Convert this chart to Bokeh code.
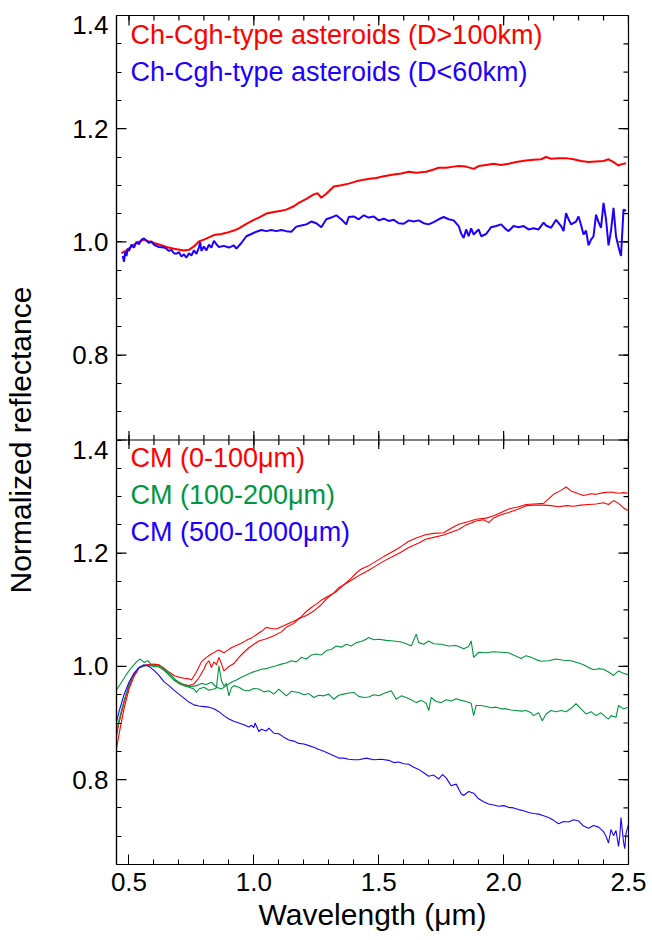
import math
from bokeh.plotting import figure
from bokeh.models import Range1d, FixedTicker, Span, Label, PrintfTickFormatter
from bokeh.embed import file_html
from bokeh.resources import INLINE

# ---------------- data ----------------
# Top panel: Ch-Cgh-type asteroids
top_red_x = [0.47, 0.49, 0.51, 0.53, 0.56, 0.58, 0.60, 0.63, 0.65, 0.68, 0.72, 0.74, 0.76, 0.78, 0.80,
             0.82, 0.84, 0.87, 0.89, 0.92, 0.94, 0.97, 1.00, 1.02, 1.05, 1.08, 1.11, 1.13, 1.16, 1.18,
             1.21, 1.24, 1.255, 1.27, 1.29, 1.32, 1.35, 1.38, 1.41, 1.44, 1.47, 1.49, 1.52, 1.56, 1.59,
             1.62, 1.65, 1.69, 1.72, 1.74, 1.77, 1.80, 1.82, 1.85, 1.88, 1.90, 1.93, 1.96, 1.99, 2.02,
             2.05, 2.09, 2.12, 2.15, 2.17, 2.19, 2.22, 2.25, 2.28, 2.31, 2.34, 2.37, 2.40, 2.42, 2.44,
             2.46, 2.47, 2.49]
top_red_y = [0.980, 0.985, 0.992, 0.998, 1.004, 1.001, 0.998, 0.994, 0.991, 0.988, 0.985, 0.986, 0.992,
             1.001, 1.004, 1.008, 1.012, 1.014, 1.016, 1.020, 1.024, 1.032, 1.039, 1.043, 1.050, 1.053,
             1.055, 1.057, 1.063, 1.069, 1.076, 1.084, 1.086, 1.078, 1.085, 1.098, 1.100, 1.103, 1.107,
             1.110, 1.112, 1.113, 1.116, 1.119, 1.121, 1.124, 1.122, 1.124, 1.128, 1.131, 1.131, 1.133,
             1.134, 1.133, 1.129, 1.134, 1.136, 1.138, 1.136, 1.138, 1.141, 1.144, 1.145, 1.146, 1.150,
             1.147, 1.148, 1.148, 1.146, 1.143, 1.141, 1.142, 1.143, 1.146, 1.141, 1.135, 1.137, 1.139]

top_blue_x = [0.475, 0.48, 0.485, 0.49, 0.495, 0.50, 0.51, 0.52, 0.53, 0.54, 0.55, 0.56, 0.57, 0.58,
              0.59, 0.60, 0.62, 0.64, 0.65, 0.66, 0.67, 0.68, 0.69, 0.70, 0.71, 0.72, 0.73, 0.74, 0.75,
              0.76, 0.77, 0.78, 0.785, 0.79, 0.80, 0.81, 0.82, 0.83, 0.84, 0.85, 0.86, 0.88, 0.90, 0.92,
              0.93, 0.95, 0.97, 0.99, 1.01, 1.03, 1.05, 1.07, 1.09, 1.11, 1.13, 1.15, 1.17, 1.19, 1.21,
              1.23, 1.25, 1.27, 1.29, 1.31, 1.33, 1.35, 1.37, 1.38, 1.40, 1.42, 1.44, 1.46, 1.48, 1.50,
              1.52, 1.54, 1.56, 1.58, 1.60, 1.62, 1.64, 1.66, 1.68, 1.70, 1.72, 1.74, 1.76, 1.78, 1.80,
              1.82, 1.83, 1.84, 1.85, 1.86, 1.87, 1.88, 1.90, 1.91, 1.93, 1.95, 1.97, 1.99, 2.01, 2.02,
              2.04, 2.06, 2.08, 2.10, 2.12, 2.14, 2.16, 2.17, 2.19, 2.21, 2.23, 2.24, 2.25, 2.26, 2.27,
              2.29, 2.30, 2.31, 2.32, 2.33, 2.34, 2.35, 2.36, 2.37, 2.38, 2.39, 2.40, 2.41, 2.42, 2.43,
              2.44, 2.45, 2.46, 2.47, 2.48, 2.49]
top_blue_y = [0.975, 0.965, 0.982, 0.975, 0.988, 0.984, 0.995, 0.990, 1.000, 0.996, 1.004, 1.006, 1.002,
              0.998, 1.001, 0.995, 0.991, 0.990, 0.988, 0.984, 0.986, 0.980, 0.979, 0.982, 0.974, 0.978,
              0.972, 0.980, 0.976, 0.985, 0.979, 0.990, 1.000, 0.984, 0.992, 0.985, 0.995, 0.990, 1.002,
              0.996, 0.991, 0.993, 0.990, 0.994, 0.988, 0.998, 1.010, 1.014, 1.018, 1.021, 1.019, 1.021,
              1.019, 1.021, 1.019, 1.018, 1.027, 1.029, 1.031, 1.036, 1.033, 1.026, 1.040, 1.043, 1.047,
              1.040, 1.031, 1.044, 1.045, 1.040, 1.047, 1.043, 1.045, 1.038, 1.041, 1.037, 1.039, 1.033,
              1.032, 1.038, 1.036, 1.038, 1.033, 1.031, 1.035, 1.040, 1.044, 1.040, 1.038, 1.028, 1.015,
              1.007, 1.022, 1.010, 1.024, 1.013, 1.022, 1.010, 1.014, 1.026, 1.028, 1.031, 1.022, 1.019,
              1.028, 1.026, 1.028, 1.022, 1.024, 1.022, 1.034, 1.029, 1.025, 1.039, 1.028, 1.019, 1.051,
              1.040, 1.031, 1.036, 1.045, 1.030, 1.013, 1.020, 0.994, 1.004, 1.010, 1.048, 1.035, 1.025,
              1.069, 1.040, 0.994, 1.020, 1.060, 1.010, 0.991, 0.975, 1.057, 1.055]

# Bottom panel: CM chondrites
cm1_a_x = [0.448, 0.46, 0.48, 0.50, 0.52, 0.54, 0.57, 0.60, 0.62, 0.64, 0.66, 0.68, 0.70, 0.72, 0.74,
           0.75, 0.77, 0.79, 0.81, 0.83, 0.85, 0.86, 0.88, 0.89, 0.91, 0.93, 0.95, 0.97, 0.99, 1.01,
           1.03, 1.05, 1.07, 1.09, 1.11, 1.13, 1.15, 1.17, 1.19, 1.21, 1.23, 1.25, 1.27, 1.29, 1.31,
           1.33, 1.35, 1.37, 1.39, 1.41, 1.43, 1.46, 1.49, 1.52, 1.56, 1.59, 1.62, 1.65, 1.69, 1.72,
           1.76, 1.79, 1.82, 1.86, 1.89, 1.93, 1.96, 1.99, 2.02, 2.06, 2.09, 2.12, 2.16, 2.18, 2.20,
           2.23, 2.25, 2.27, 2.30, 2.32, 2.35, 2.37, 2.40, 2.43, 2.46, 2.48, 2.50]
cm1_a_y = [0.850, 0.880, 0.925, 0.960, 0.982, 0.997, 1.002, 1.003, 1.002, 0.997, 0.990, 0.984, 0.981,
           0.979, 0.978, 0.976, 0.990, 1.008, 1.016, 1.022, 1.027, 1.029, 1.024, 1.027, 1.033, 1.037,
           1.041, 1.046, 1.050, 1.056, 1.062, 1.069, 1.067, 1.066, 1.070, 1.074, 1.078, 1.082, 1.088,
           1.097, 1.104, 1.110, 1.117, 1.122, 1.127, 1.132, 1.140, 1.148, 1.156, 1.165, 1.172, 1.178,
           1.186, 1.194, 1.204, 1.212, 1.221, 1.227, 1.233, 1.235, 1.236, 1.244, 1.251, 1.256, 1.260,
           1.262, 1.266, 1.272, 1.278, 1.282, 1.286, 1.287, 1.288, 1.296, 1.304, 1.311, 1.317, 1.310,
           1.305, 1.302, 1.305, 1.304, 1.307, 1.308, 1.306, 1.307, 1.306]

cm1_b_x = [0.448, 0.46, 0.48, 0.50, 0.52, 0.54, 0.57, 0.60, 0.62, 0.64, 0.66, 0.68, 0.70, 0.72, 0.74,
           0.76, 0.78, 0.80, 0.81, 0.82, 0.83, 0.84, 0.85, 0.86, 0.87, 0.88, 0.89, 0.90, 0.92, 0.94,
           0.96, 0.98, 1.00, 1.02, 1.05, 1.08, 1.11, 1.13, 1.16, 1.18, 1.21, 1.24, 1.27, 1.29, 1.32,
           1.34, 1.37, 1.40, 1.43, 1.46, 1.49, 1.52, 1.56, 1.59, 1.62, 1.66, 1.69, 1.72, 1.76, 1.79,
           1.82, 1.85, 1.89, 1.92, 1.94, 1.96, 1.99, 2.02, 2.06, 2.09, 2.12, 2.16, 2.19, 2.22, 2.25,
           2.28, 2.31, 2.34, 2.37, 2.40, 2.42, 2.44, 2.46, 2.48, 2.50]
cm1_b_y = [0.873, 0.900, 0.935, 0.965, 0.985, 0.998, 1.003, 1.004, 1.003, 0.995, 0.985, 0.976, 0.970,
           0.968, 0.966, 0.969, 0.980, 0.995, 1.005, 1.010, 0.998, 1.008, 1.003, 1.016, 1.005, 0.992,
           0.996, 1.000, 1.005, 1.016, 1.025, 1.033, 1.039, 1.045, 1.049, 1.054, 1.061, 1.069, 1.076,
           1.084, 1.090, 1.098, 1.109, 1.119, 1.130, 1.139, 1.147, 1.155, 1.163, 1.170, 1.178, 1.186,
           1.195, 1.202, 1.210, 1.218, 1.225, 1.228, 1.232, 1.237, 1.242, 1.250, 1.257, 1.259, 1.254,
           1.262, 1.268, 1.272, 1.278, 1.284, 1.285, 1.285, 1.284, 1.282, 1.284, 1.283, 1.285, 1.286,
           1.287, 1.289, 1.286, 1.293, 1.288, 1.280, 1.275]

cm2_a_x = [0.448, 0.47, 0.49, 0.51, 0.53, 0.545, 0.56, 0.575, 0.59, 0.61, 0.63, 0.65, 0.67, 0.69, 0.71,
           0.73, 0.75, 0.77, 0.79, 0.81, 0.83, 0.85, 0.87, 0.89, 0.91, 0.93, 0.95, 0.97, 0.99, 1.01,
           1.03, 1.05, 1.07, 1.09, 1.11, 1.13, 1.15, 1.17, 1.19, 1.21, 1.23, 1.25, 1.27, 1.29, 1.31,
           1.33, 1.35, 1.37, 1.39, 1.41, 1.43, 1.45, 1.46, 1.48, 1.50, 1.53, 1.56, 1.59, 1.61, 1.63,
           1.65, 1.66, 1.68, 1.70, 1.72, 1.75, 1.78, 1.81, 1.84, 1.86, 1.87, 1.88, 1.90, 1.93, 1.96,
           1.99, 2.02, 2.05, 2.07, 2.09, 2.11, 2.13, 2.15, 2.18, 2.21, 2.24, 2.27, 2.30, 2.32, 2.34,
           2.36, 2.38, 2.40, 2.42, 2.44, 2.46, 2.48, 2.50]
cm2_a_y = [0.957, 0.972, 0.986, 0.998, 1.008, 1.013, 1.007, 1.010, 1.003, 1.001, 0.999, 0.992, 0.984,
           0.975, 0.970, 0.966, 0.964, 0.966, 0.970, 0.968, 0.972, 0.963, 0.960, 0.966, 0.972, 0.976,
           0.981, 0.985, 0.989, 0.992, 0.995, 0.996, 0.999, 1.001, 1.004, 1.006, 1.010, 1.008, 1.016,
           1.013, 1.020, 1.022, 1.020, 1.028, 1.030, 1.036, 1.034, 1.039, 1.036, 1.042, 1.044, 1.048,
           1.051, 1.047, 1.048, 1.046, 1.045, 1.043, 1.040, 1.036, 1.057, 1.042, 1.039, 1.045, 1.040,
           1.039, 1.036, 1.037, 1.031, 1.035, 1.045, 1.016, 1.025, 1.024, 1.026, 1.025, 1.024, 1.018,
           1.014, 1.019, 1.016, 1.012, 1.009, 1.010, 1.013, 1.011, 1.010, 1.006, 1.003, 0.998, 0.994,
           0.996, 0.995, 0.990, 0.984, 0.992, 0.988, 0.985]

cm2_b_x = [0.448, 0.46, 0.48, 0.50, 0.52, 0.54, 0.57, 0.60, 0.62, 0.64, 0.66, 0.68, 0.70, 0.72, 0.74,
           0.76, 0.77, 0.78, 0.80, 0.82, 0.84, 0.85, 0.86, 0.87, 0.88, 0.89, 0.90, 0.91, 0.92, 0.94,
           0.96, 0.98, 1.00, 1.02, 1.04, 1.06, 1.08, 1.10, 1.12, 1.13, 1.15, 1.18, 1.20, 1.22, 1.24,
           1.26, 1.28, 1.30, 1.32, 1.34, 1.36, 1.38, 1.40, 1.42, 1.44, 1.46, 1.48, 1.50, 1.52, 1.55,
           1.57, 1.59, 1.61, 1.63, 1.65, 1.67, 1.69, 1.70, 1.71, 1.73, 1.75, 1.77, 1.79, 1.81, 1.83,
           1.85, 1.87, 1.88, 1.89, 1.91, 1.93, 1.95, 1.97, 1.99, 2.01, 2.03, 2.05, 2.07, 2.09, 2.11,
           2.12, 2.14, 2.155, 2.17, 2.19, 2.21, 2.23, 2.25, 2.27, 2.29, 2.31, 2.33, 2.35, 2.37, 2.39,
           2.41, 2.42, 2.43, 2.45, 2.46, 2.48, 2.50]
cm2_b_y = [0.880, 0.905, 0.940, 0.968, 0.987, 0.998, 1.002, 1.000, 0.999, 0.993, 0.985, 0.976, 0.970,
           0.966, 0.963, 0.960, 0.954, 0.960, 0.963, 0.958, 0.960, 0.962, 1.001, 0.975, 0.965, 0.970,
           0.948, 0.962, 0.966, 0.963, 0.958, 0.957, 0.961, 0.960, 0.955, 0.957, 0.951, 0.960, 0.952,
           0.948, 0.956, 0.954, 0.950, 0.952, 0.945, 0.949, 0.948, 0.951, 0.942, 0.949, 0.951, 0.953,
           0.954, 0.947, 0.945, 0.946, 0.950, 0.948, 0.952, 0.957, 0.942, 0.948, 0.945, 0.941, 0.936,
           0.940, 0.935, 0.922, 0.945, 0.938, 0.936, 0.941, 0.939, 0.943, 0.940, 0.938, 0.935, 0.913,
           0.931, 0.931, 0.929, 0.927, 0.928, 0.925, 0.925, 0.923, 0.922, 0.921, 0.922, 0.918, 0.913,
           0.918, 0.904, 0.916, 0.922, 0.920, 0.922, 0.920, 0.926, 0.934, 0.925, 0.916, 0.920, 0.913,
           0.918, 0.910, 0.907, 0.913, 0.910, 0.931, 0.925, 0.928]

cm3_x = [0.448, 0.46, 0.48, 0.50, 0.52, 0.54, 0.56, 0.58, 0.60, 0.62, 0.64, 0.66, 0.68, 0.70, 0.72,
         0.74, 0.76, 0.78, 0.80, 0.82, 0.84, 0.86, 0.88, 0.90, 0.92, 0.94, 0.96, 0.98, 0.99, 1.00,
         1.005, 1.02, 1.03, 1.05, 1.06, 1.08, 1.10, 1.12, 1.14, 1.16, 1.18, 1.20, 1.22, 1.24, 1.26,
         1.28, 1.30, 1.32, 1.34, 1.36, 1.38, 1.40, 1.42, 1.45, 1.48, 1.51, 1.54, 1.56, 1.58, 1.60,
         1.62, 1.64, 1.66, 1.68, 1.70, 1.72, 1.74, 1.755, 1.77, 1.78, 1.79, 1.81, 1.83, 1.84, 1.86,
         1.88, 1.90, 1.92, 1.94, 1.96, 1.98, 2.00, 2.02, 2.04, 2.06, 2.08, 2.10, 2.12, 2.14, 2.16,
         2.18, 2.20, 2.22, 2.24, 2.26, 2.28, 2.30, 2.32, 2.34, 2.36, 2.38, 2.39, 2.40, 2.41, 2.42,
         2.43, 2.44, 2.45, 2.46, 2.465, 2.47, 2.48, 2.485, 2.49, 2.50]
cm3_y = [0.898, 0.920, 0.950, 0.972, 0.988, 0.998, 1.003, 1.000, 0.993, 0.984, 0.973, 0.966, 0.958,
         0.951, 0.944, 0.937, 0.932, 0.930, 0.929, 0.928, 0.925, 0.920, 0.913, 0.907, 0.903, 0.900,
         0.897, 0.893, 0.896, 0.892, 0.900, 0.885, 0.889, 0.886, 0.891, 0.882, 0.881, 0.875, 0.870,
         0.868, 0.864, 0.863, 0.860, 0.857, 0.853, 0.850, 0.846, 0.842, 0.838, 0.838, 0.836, 0.835,
         0.835, 0.838, 0.835, 0.836, 0.834, 0.830, 0.831, 0.828, 0.827, 0.822, 0.818, 0.812, 0.806,
         0.808, 0.801, 0.809, 0.803, 0.796, 0.789, 0.792, 0.775, 0.772, 0.779, 0.776, 0.766, 0.761,
         0.757, 0.755, 0.753, 0.754, 0.751, 0.750, 0.747, 0.745, 0.742, 0.740, 0.739, 0.736, 0.733,
         0.728, 0.722, 0.726, 0.725, 0.729, 0.727, 0.718, 0.714, 0.719, 0.716, 0.712, 0.708, 0.700,
         0.688, 0.712, 0.701, 0.710, 0.682, 0.700, 0.733, 0.690, 0.678, 0.705, 0.721]

# axes / ticks
x_lo, x_hi = 0.45, 2.5
x_major = [0.5, 1.0, 1.5, 2.0, 2.5]
x_minor = [round(0.5 + 0.1 * i, 2) for i in range(21)]
y_labels = [0.8, 1.0, 1.2, 1.4]
y_lo, y_hi = 0.65, 1.4
legend_top = ["Ch-Cgh-type asteroids (D>100km)", "Ch-Cgh-type asteroids (D<60km)"]
legend_bot = ["CM (0-100\u03bcm)", "CM (100-200\u03bcm)", "CM (500-1000\u03bcm)"]

RED, BLUE, GREEN = "#ff0000", "#1e00ff", "#00963f"
FONT = "Liberation Sans"
FRAME_H = 849

shift = y_hi - y_lo  # the top panel is stacked above the bottom one
p = figure(frame_width=512, frame_height=FRAME_H,
           x_range=Range1d(x_lo, x_hi), y_range=Range1d(y_lo, y_hi + shift),
           output_backend="svg", toolbar_location=None,
           min_border_left=116, min_border_top=15, min_border_right=22, min_border_bottom=62)
p.extra_y_ranges = {"top": Range1d(y_lo - shift, y_hi)}
p.xgrid.visible = False
p.ygrid.visible = False
p.outline_line_color = "black"
p.outline_line_width = 1.2
p.background_fill_color = "white"
p.border_fill_color = "white"

# true tick positions (in the stacked coordinate of the default range)
y_major_pos = y_labels + [v + shift for v in y_labels]
y_minor_pos = [round(y_lo + 0.05 * i, 2) for i in range(int(round(2 * shift / 0.05)) + 1)]

# label positions: the topmost label of each panel sits a little below its tick (as in the original)
px_per_unit = FRAME_H / (2 * shift)
drop = 9.5 / px_per_unit
label_pos, overrides = [], {}
for v in y_labels:
    for off in (0.0, shift):
        pos = v + off - (drop if v == y_hi else 0.0)
        label_pos.append(pos)
        overrides[pos] = "%.1f" % v

def style(ax):
    ax.axis_line_color = "black"
    ax.axis_line_width = 1.2
    ax.major_tick_line_color = "black"
    ax.minor_tick_line_color = "black"
    ax.major_tick_in = 10
    ax.major_tick_out = 0
    ax.minor_tick_in = 5
    ax.minor_tick_out = 0
    ax.major_label_text_font = FONT
    ax.major_label_text_font_size = "26px"
    ax.major_label_text_color = "black"
    ax.axis_label_text_font = FONT
    ax.axis_label_text_font_style = "normal"
    ax.axis_label_text_font_size = "30px"
    ax.axis_label_text_color = "black"

xa = p.xaxis[0]
xa.ticker = FixedTicker(ticks=x_major, minor_ticks=x_minor)
xa.formatter = PrintfTickFormatter(format="%.1f")
style(xa)
xa.axis_label = "Wavelength (\u03bcm)"
xa.major_label_standoff = 8
xa.axis_label_standoff = 4

ya = p.yaxis[0]
ya.ticker = FixedTicker(ticks=label_pos, minor_ticks=y_minor_pos)
style(ya)
ya.major_tick_in = 0          # major tick marks drawn below at the true positions
ya.major_label_overrides = overrides
ya.axis_label = "Normalized reflectance"
ya.major_label_standoff = 8
ya.axis_label_standoff = 32

TICK_C = "black"
def tick_marks(xs, ys, size, vertical):
    p.scatter(x=xs, y=ys, marker="dash", angle=(math.pi / 2 if vertical else 0.0),
              size=size, line_color=TICK_C, line_width=1.2)

y_top = y_hi + shift
# left major ticks, right side ticks, top ticks, divider ticks (inward, clipped by the frame)
tick_marks([x_lo] * len(y_major_pos), y_major_pos, 20, False)
tick_marks([x_hi] * len(y_major_pos), y_major_pos, 20, False)
tick_marks([x_hi] * len(y_minor_pos), y_minor_pos, 10, False)
tick_marks(x_major, [y_top] * len(x_major), 20, True)
tick_marks(x_minor, [y_top] * len(x_minor), 10, True)
p.add_layout(Span(location=y_hi, dimension="width", line_color="black", line_width=1.2))
tick_marks(x_minor, [y_hi] * len(x_minor), 10, True)
tick_marks(x_major, [y_hi] * len(x_major), 18, True)

# spectra
p.line(top_red_x, top_red_y, y_range_name="top", line_color=RED, line_width=2)
p.line(top_blue_x, top_blue_y, y_range_name="top", line_color=BLUE, line_width=2)
p.line(cm1_a_x, cm1_a_y, line_color=RED, line_width=1.1)
p.line(cm1_b_x, cm1_b_y, line_color=RED, line_width=1.1)
p.line(cm2_a_x, cm2_a_y, line_color=GREEN, line_width=1.1)
p.line(cm2_b_x, cm2_b_y, line_color=GREEN, line_width=1.1)
p.line(cm3_x, cm3_y, line_color=BLUE, line_width=1.1)

# legends as coloured text
for txt, col, yy in zip(legend_top, [RED, BLUE], [1.366, 1.301]):
    p.add_layout(Label(x=0.506, y=yy, y_range_name="top", text=txt, text_color=col,
                       text_font=FONT, text_font_size="27px", text_baseline="middle"))
for txt, col, yy in zip(legend_bot, [RED, GREEN, BLUE], [1.369, 1.303, 1.237]):
    p.add_layout(Label(x=0.506, y=yy, text=txt, text_color=col,
                       text_font=FONT, text_font_size="27px", text_baseline="middle"))

open("out.html", "w").write(file_html(p, INLINE))
